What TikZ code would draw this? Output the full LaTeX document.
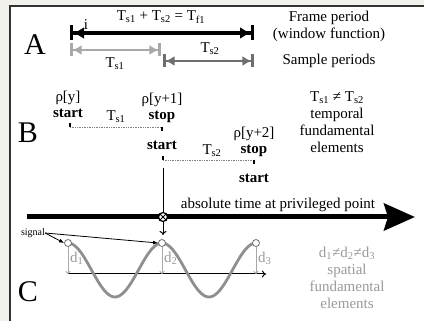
\documentclass[tikz,border=0pt]{standalone}
\usepackage{fontspec}
\setmainfont{Liberation Serif}
\usetikzlibrary{arrows.meta}
\definecolor{pagebg}{HTML}{F2F1EC}
\definecolor{lightgr}{HTML}{A8A8A8}
\definecolor{darkgr}{HTML}{6E6E6E}
\definecolor{wavegr}{HTML}{8F8F8F}
\definecolor{textgr}{HTML}{9A9A9A}
\newcommand{\sbs}[1]{\textsubscript{#1}}
\begin{document}
\begin{tikzpicture}[x=1pt,y=-1pt,
  lbl/.style={font=\fontsize{15}{17}\selectfont,inner sep=0pt,align=center},
  boldlbl/.style={font=\fontsize{15}{17}\selectfont\bfseries,inner sep=0pt},
  part/.style={font=\fontsize{30}{30}\selectfont,inner sep=0pt},
  framearr/.style={line width=3.2pt,{Bar[width=15pt,line width=3pt]Latex[length=11pt,width=12pt]}-{Latex[length=11pt,width=12pt]Bar[width=15pt,line width=3pt]}},
  samplearr/.style={line width=2.6pt,{Bar[width=13pt,line width=2.6pt]Latex[length=9pt,width=10pt]}-{Latex[length=9pt,width=10pt]Bar[width=13pt,line width=2.6pt]}},
  dotline/.style={densely dotted,line width=0.7pt,gray},
  tickmark/.style={line width=1.2pt},
  darr/.style={lightgr,line width=0.9pt,-{To[length=3pt,width=5pt]}},
  peak/.style={circle,draw=darkgr,fill=white,line width=0.8pt,inner sep=0pt,minimum size=7pt}]
  \useasboundingbox (0,0) rectangle (424,321);
  \clip (0,0) rectangle (424,321);
  \fill[pagebg] (0,0) rectangle (424,321);
  \draw[line width=1.4pt,draw=black!80,fill=white] (10,6) rectangle (440,340);

  % A: frame period and the two sample periods.
  \node[part] (partA) at (35,45) {A};
  \coordinate (fl) at (70,33);
  \coordinate (fr) at (254,33);
  \draw[framearr] (fl)--(fr);
  \node[lbl] (fsum) at (161,17) {T\sbs{s1} + T\sbs{s2} = T\sbs{f1}};
  \node[lbl] (ione) at (86,25) {i};
  \coordinate (s1l) at (70,50);
  \coordinate (s1r) at (161,50);
  \draw[samplearr,lightgr] (s1l)--(s1r);
  \node[lbl] (ts1a) at (115,64) {T\sbs{s1}};
  \coordinate (s2l) at (163,61);
  \coordinate (s2r) at (254,61);
  \draw[samplearr,darkgr] (s2l)--(s2r);
  \node[lbl] (ts2a) at (210,49) {T\sbs{s2}};
  \node[lbl] (frametxt) at (329,26) {Frame period\\(window function)};
  \node[lbl] (sampletxt) at (329,61) {Sample periods};

  % B: start/stop of the temporal elements.
  \node[part] (partB) at (28,133) {B};
  \node[lbl] (rho0) at (68,98) {ρ[y]};
  \node[boldlbl] (start0) at (68,113) {start};
  \node[lbl] (rho1) at (162,100) {ρ[y+1]};
  \node[boldlbl] (stop1) at (162,117) {stop};
  \node[boldlbl] (start1) at (162,145) {start};
  \node[lbl] (rho2) at (254,134) {ρ[y+2]};
  \node[boldlbl] (stop2) at (254,151) {stop};
  \node[boldlbl] (start2) at (254,178) {start};
  \foreach \xa/\xb/\yy in {70/162/127,163/254/160}{
    \draw[tickmark] (\xa,\yy-4)--(\xa,\yy);
    \draw[dotline] (\xa,\yy)--(\xb,\yy);
    \draw[tickmark] (\xb,\yy)--(\xb,\yy+4);
  }
  \node[lbl] (ts1b) at (116,117) {T\sbs{s1}};
  \node[lbl] (ts2b) at (212,151) {T\sbs{s2}};
  \node[lbl] (temptxt) at (337,122) {T\sbs{s1} ≠ T\sbs{s2}\\temporal\\fundamental\\elements};

  % Absolute time axis and the privileged point.
  \coordinate (t0) at (27,217);
  \coordinate (t1) at (415,217);
  \draw[line width=5pt,-{Stealth[length=31pt,width=27pt,inset=4pt]}] (t0)--(t1);
  \node[lbl] (abstxt) at (278,205) {absolute time at privileged point};
  \coordinate (vtop) at (163,168);
  \coordinate (vbot) at (163,235);
  \draw[line width=1pt,-{To[length=4pt,width=7pt]}] (vtop)--(vbot);
  \node[circle,draw,fill=white,line width=1.2pt,minimum size=9pt,inner sep=0pt] (cross) at (163,217) {};
  \draw[line width=1pt] (cross.north east)--(cross.south west)
    (cross.north west)--(cross.south east);

  % C: spatial elements on the signal.
  \node[part] (partC) at (28,292) {C};
  \coordinate (b0) at (68,274);
  \coordinate (b1) at (266,274);
  \draw[line width=1pt,-{To[length=4pt,width=7pt]}] (b0)--(b1);
  \draw[wavegr,line width=2.8pt,domain=68:256,samples=90,smooth]
    plot (\x,{270-27*cos(3.8298*(\x-68))});
  \foreach \i/\xx in {1/68,2/162,3/256}{
    \node[peak] (pk\i) at (\xx,243) {};
    \draw[darr] (pk\i.south)--(\xx,274);
    \node[lbl,anchor=west,textgr] (d\i) at (\xx+2,258) {d\sbs{\i}};
  }
  \node[font=\fontsize{10}{12}\selectfont,inner sep=0pt] (sig) at (33,233) {signal};
  \draw[line width=0.8pt,-{Latex[length=5pt,width=4pt]}] (sig.east)--(pk1.west);
  \draw[line width=0.8pt,-{Latex[length=5pt,width=4pt]}] (sig.east)--(pk2.west);
  \node[lbl,textgr] (spattxt) at (347,278) {d\sbs{1}≠d\sbs{2}≠d\sbs{3}\\spatial\\fundamental\\elements};
\end{tikzpicture}
\end{document}
